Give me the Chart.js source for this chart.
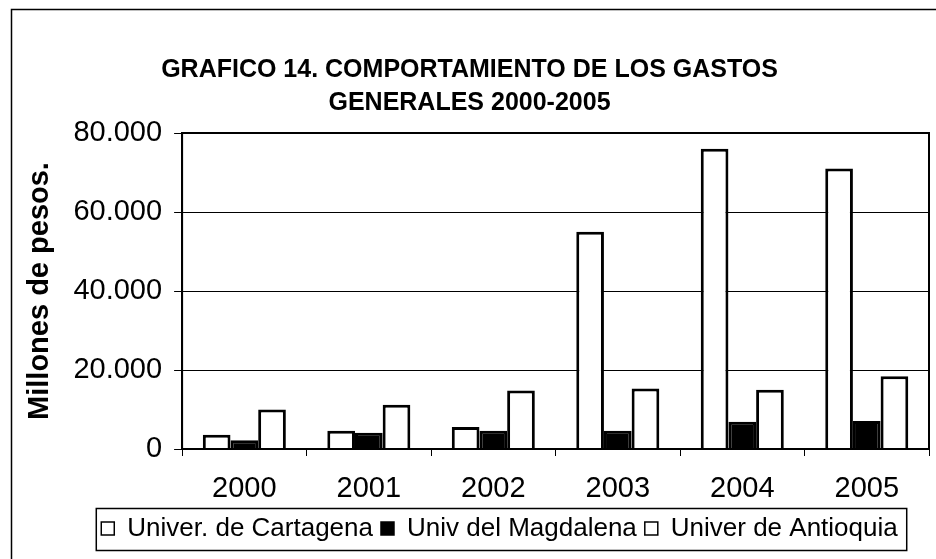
<!DOCTYPE html>
<html>
<head>
<meta charset="utf-8">
<script src="https://cdn.jsdelivr.net/npm/chart.js@4.4.1/dist/chart.umd.min.js"></script>
<style>
  html, body { margin: 0; padding: 0; background: #fff; }
  #wrap { width: 936px; height: 559px; }
</style>
</head>
<body>
<div id="wrap"><canvas id="chart" width="936" height="559"></canvas></div>
<script>
// chart values (millones de pesos)
const years = ['2000', '2001', '2002', '2003', '2004', '2005'];
const cartagena = [3600, 4600, 5600, 55000, 76000, 71000];
const magdalena = [2200, 4100, 4600, 4600, 6900, 7100];
const antioquia = [10000, 11200, 14800, 15300, 15000, 18400];
const yTicks = [0, 20000, 40000, 60000, 80000];

const FONT = '"Liberation Sans", Arial, sans-serif';
const LEGEND_SHIFT = 30; // legend sits a bit right of the page centre

// thousands with a dot, like 80.000
function fmt(v) {
    return v.toString().replace(/\B(?=(\d{3})+(?!\d))/g, '.');
}

// white page, outer frame, plot box and legend box
const framePlugin = {
    id: 'frames',
    afterLayout(chart) {
        chart.legend.left += LEGEND_SHIFT;
        chart.legend.right += LEGEND_SHIFT;
    },
    beforeDraw(chart) {
        const ctx = chart.ctx;
        ctx.save();
        ctx.fillStyle = '#fff';
        ctx.fillRect(0, 0, chart.width, chart.height);
        // only the left and top edges of the outer frame show
        ctx.strokeStyle = '#000';
        ctx.lineWidth = 1.5;
        ctx.beginPath();
        ctx.moveTo(11.5, chart.height);
        ctx.lineTo(11.5, 9.5);
        ctx.lineTo(chart.width, 9.5);
        ctx.stroke();
        ctx.restore();
    },
    afterDraw(chart) {
        const ctx = chart.ctx;
        const a = chart.chartArea;
        ctx.save();
        ctx.strokeStyle = '#000';
        ctx.lineWidth = 2;
        ctx.strokeRect(a.left, a.top, a.right - a.left, a.bottom - a.top);
        const lg = chart.legend;
        if (lg && lg.legendHitBoxes && lg.legendHitBoxes.length) {
            const boxes = lg.legendHitBoxes;
            const l = Math.min(...boxes.map(b => b.left)) - 5;
            const r = Math.max(...boxes.map(b => b.left + b.width)) + 9;
            ctx.lineWidth = 1.5;
            ctx.strokeRect(l, lg.top + 1, r - l, lg.height - 2);
        }
        ctx.restore();
    }
};

const ctx = document.getElementById('chart').getContext('2d');
new Chart(ctx, {
    type: 'bar',
    data: {
        labels: years,
        datasets: [
            { label: 'Univer. de Cartagena', data: cartagena, backgroundColor: '#fff', borderColor: '#000', borderWidth: 3 },
            { label: 'Univ del Magdalena', data: magdalena, backgroundColor: '#000', borderColor: '#000', borderWidth: 3 },
            { label: 'Univer de Antioquia', data: antioquia, backgroundColor: '#fff', borderColor: '#000', borderWidth: 3 }
        ]
    },
    options: {
        responsive: false,
        animation: false,
        categoryPercentage: 0.667,
        barPercentage: 1,
        layout: { padding: { left: 10, right: 7, top: 0, bottom: 7.5 } },
        scales: {
            x: {
                offset: true,
                grid: { offset: true, drawOnChartArea: false, drawTicks: true, tickLength: 7, tickColor: '#000', lineWidth: 1 },
                border: { display: true, color: '#000', width: 2 },
                ticks: { color: '#000', padding: 17, font: { family: FONT, size: 29, lineHeight: 1.1 }, maxRotation: 0 },
                afterFit: scale => { scale.height = 58.5; }
            },
            y: {
                min: 0,
                max: 80000,
                afterBuildTicks: axis => { axis.ticks = yTicks.map(v => ({ value: v })); },
                grid: { color: '#000', lineWidth: 1, tickLength: 8, tickColor: '#000' },
                border: { display: true, color: '#000', width: 2 },
                ticks: { color: '#000', padding: 12, font: { family: FONT, size: 29 }, callback: v => fmt(v) },
                title: {
                    display: true,
                    text: 'Millones de pesos.',
                    color: '#000',
                    font: { family: FONT, size: 29, weight: 'bold' },
                    padding: { top: 12.6, bottom: 4 }
                }
            }
        },
        plugins: {
            title: {
                display: true,
                text: ['GRAFICO 14. COMPORTAMIENTO DE LOS GASTOS', 'GENERALES 2000-2005'],
                color: '#000',
                font: { family: FONT, size: 25, weight: 'bold', lineHeight: 1.32 },
                padding: { top: 53.5, bottom: 13.5 }
            },
            legend: {
                display: true,
                position: 'bottom',
                labels: {
                    color: '#000',
                    boxWidth: 13,
                    boxHeight: 13,
                    padding: 8,
                    font: { family: FONT, size: 26 },
                    generateLabels: chart => Chart.defaults.plugins.legend.labels.generateLabels(chart)
                        .map(item => ({ ...item, lineWidth: 1.5 }))
                }
            },
            tooltip: { enabled: false }
        }
    },
    plugins: [framePlugin]
});
</script>
</body>
</html>
